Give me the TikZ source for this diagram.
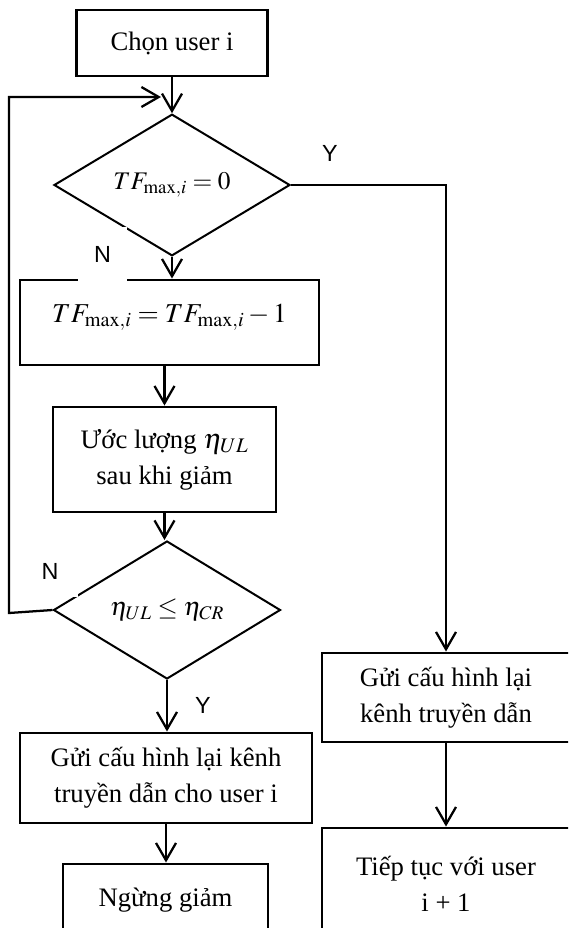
\documentclass[tikz,border=0pt]{standalone}
\usepackage{mathptmx}
\usepackage{fontspec}
\setmainfont{Liberation Serif}
\newfontfamily\labelfont{Liberation Sans}
\usetikzlibrary{arrows.meta,shapes.geometric}

\begin{document}
\begin{tikzpicture}[x=0.75pt,y=-0.75pt]
\tikzset{
  procbox/.style={rectangle,draw,line width=2.2pt,inner sep=0pt,align=center,font=\fontsize{20}{27}\selectfont},
  decision/.style={diamond,draw,line width=1.5pt,inner sep=0pt,font=\fontsize{19}{27}\selectfont},
  directed/.style={-{Straight Barb[length=13pt,width=15pt]},line width=1.7pt},
  branch/.style={font=\labelfont\fontsize{17.5}{17.5}\selectfont,inner sep=0pt}
}
\useasboundingbox (0,0) rectangle (568,928);
\clip (0,0) rectangle (568,928);
\node[procbox,minimum width=143.25pt,minimum height=49.5pt] (n_start) at (172,43) {Chọn user i};
\node[decision,minimum width=177pt,minimum height=103.5pt] (n_d1) at (172,185) {$TF_{\max,i}=0$};
\node[procbox,minimum width=224.25pt,minimum height=63.75pt,text height=12pt,text depth=12pt,font=\fontsize{20.5}{27}\selectfont] (n_upd) at (169.5,322.5) {$TF_{\max,i}=TF_{\max,i}-1$};
\node[procbox,minimum width=167.25pt,minimum height=78.75pt] (n_est) at (164.5,459.5) {Ước lượng {\fontsize{21}{27}\selectfont$\eta_{UL}$}\\sau khi giảm};
\node[decision,minimum width=170.25pt,minimum height=103.5pt,font=\fontsize{19.5}{27}\selectfont] (n_d2) at (167,610) {$\eta_{UL}\le\eta_{CR}$};
\node[procbox,minimum width=219pt,minimum height=67.5pt] (n_send) at (166,778) {Gửi cấu hình lại kênh\\truyền dẫn cho user i};
\node[procbox,minimum width=153.75pt,minimum height=54pt] (n_stop) at (165.5,900) {Ngừng giảm};
\node[procbox,minimum width=186pt,minimum height=66.75pt] (n_sendR) at (446,697.5) {Gửi cấu hình lại\\kênh truyền dẫn};
\node[procbox,minimum width=186pt,minimum height=84pt] (n_next) at (446,884) {Tiếp tục với user\\i + 1};
\coordinate (c_loopB) at (9,613);
\coordinate (c_loopT) at (9,97);
\coordinate (c_loopE) at (161,97);
\draw[directed] (n_start) -- (n_d1);
\draw[directed] (n_d1.south) -- (n_d1.south |- n_upd.north);
\draw[directed] (n_upd.south -| n_est.north) -- (n_est.north);
\draw[directed] (n_est.south) -- (n_est.south |- n_d2.north);
\draw[directed] (n_d2.south) -- (n_d2.south |- n_send.north);
\draw[directed] (n_send.south) -- (n_send.south |- n_stop.north);
\draw[directed] (n_d1.east) -| (n_sendR.north);
\draw[directed] (n_sendR) -- (n_next);
\draw[directed] (n_d2.west) -- (c_loopB) -- (c_loopT) -- (c_loopE);
\node[branch,fill=white,minimum width=36.75pt,minimum height=41.25pt] (l_n1) at (102.5,254.5) {N};
\node[branch] (l_y1) at (330,153) {Y};
\node[branch,fill=white,minimum width=42pt,minimum height=39pt] (l_n2) at (50,571) {N};
\node[branch] (l_y2) at (203,705) {Y};
\end{tikzpicture}
\end{document}
